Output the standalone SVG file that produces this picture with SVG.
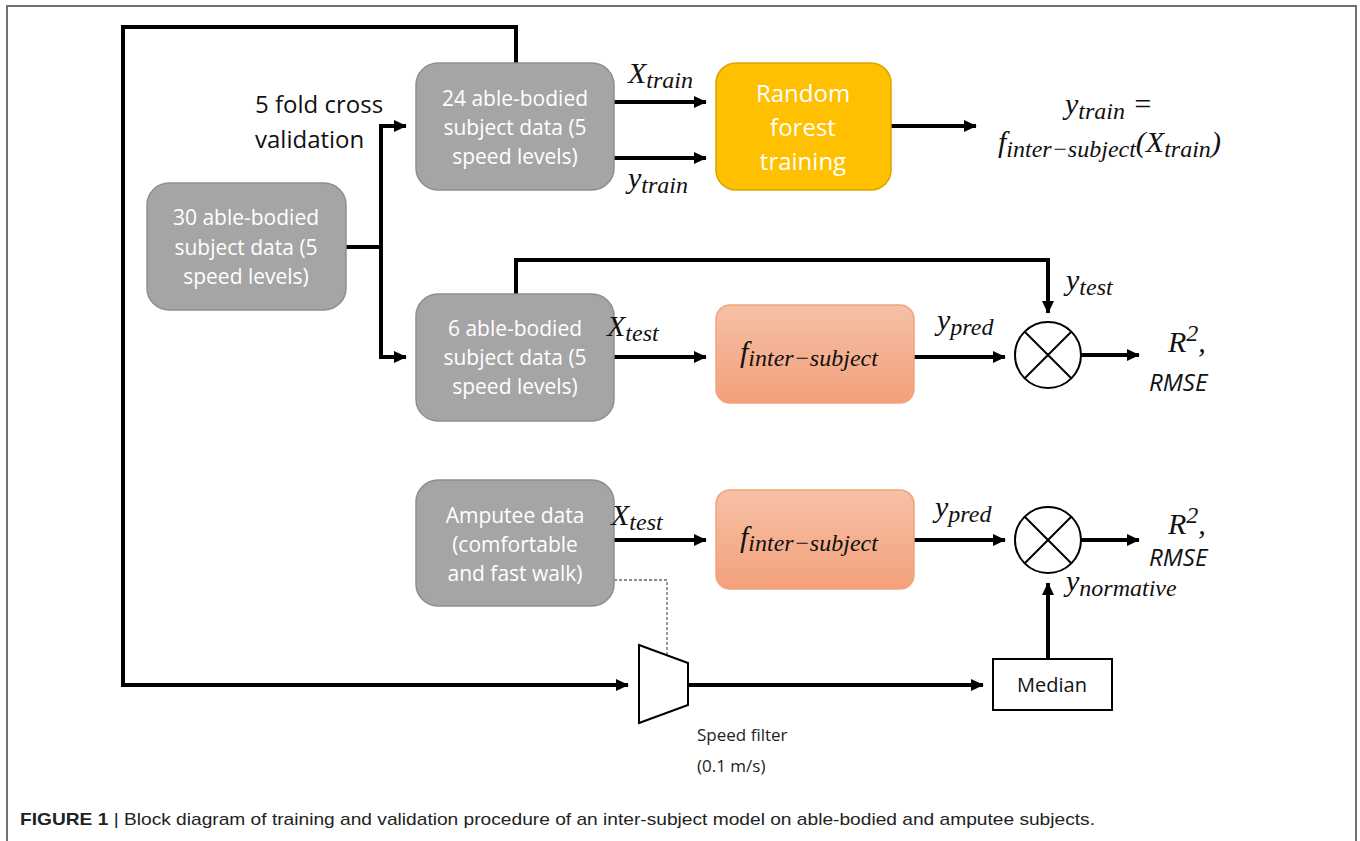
<svg xmlns="http://www.w3.org/2000/svg" width="1360" height="841" viewBox="0 0 1360 841">
<style>
.frame{fill:none;stroke:#707070;stroke-width:2}
.grey{fill:#a5a5a5;stroke:#8e8e8e;stroke-width:1.5}
.gold{fill:#ffc000;stroke:#d9a400;stroke-width:1.5}
.salmon{fill:url(#sal);stroke:#f2a47c;stroke-width:1.5}
.wt{font-family:"Open Sans","Liberation Sans",sans-serif;font-size:21px;fill:#ffffff;text-anchor:middle}
.bt{font-family:"Open Sans","Liberation Sans",sans-serif;font-size:24px;fill:#111111}
.m{font-family:"Liberation Serif",serif;font-style:italic;font-size:30px;fill:#111111}
.s{font-size:24px}
.ln{fill:none;stroke:#000;stroke-width:4}
.arr{fill:none;stroke:#000;stroke-width:4;marker-end:url(#ah)}
.thin{fill:#fff;stroke:#000;stroke-width:2}
.cap{font-family:"Liberation Sans",Arial,sans-serif;font-size:17px;fill:#222}
.sf{font-family:"Open Sans","Liberation Sans",sans-serif;font-size:17px;fill:#222}
</style>
<defs>
<marker id="ah" markerWidth="4" markerHeight="4" refX="3" refY="2" orient="auto" markerUnits="strokeWidth"><path d="M0,0.5 L3.2,2 L0,3.5 Z" fill="#000"/></marker>
<linearGradient id="sal" x1="0" y1="0" x2="0" y2="1"><stop offset="0" stop-color="#f6c1a6"/><stop offset="1" stop-color="#f3a07b"/></linearGradient>
</defs>
<rect x="0" y="0" width="1360" height="841" fill="#fff"/>
<path class="frame" d="M7,860 V6 H1356 V860"/>

<g id="connectors">
<path class="ln" d="M516,63 V27 H123 V685 H626"/>
<path class="arr" d="M123,685 H628"/>
<path class="ln" d="M346,247 H381"/>
<path class="arr" d="M381,247 V126 H406"/>
<path class="arr" d="M381,247 V357 H406"/>
<path class="arr" d="M614,102 H706"/>
<path class="arr" d="M614,158 H706"/>
<path class="arr" d="M891,126 H976"/>
<path class="arr" d="M516,294 V260 H1048 V313"/>
<path class="arr" d="M614,357 H706"/>
<path class="arr" d="M914,357 H1005"/>
<path class="arr" d="M1081,355 H1139"/>
<path class="arr" d="M614,540 H706"/>
<path class="arr" d="M914,540 H1005"/>
<path class="arr" d="M1081,540 H1139"/>
<path class="arr" d="M688,685 H983"/>
<path class="arr" d="M1048,659 V583"/>
<path d="M614,580 H667 V657" fill="none" stroke="#666" stroke-width="1.3" stroke-dasharray="3,2"/>
</g>

<g id="n30">
<rect class="grey" x="147" y="183" width="199" height="127" rx="22"/>
<text class="wt" x="246" y="225">30 able-bodied</text>
<text class="wt" x="246" y="255">subject data (5</text>
<text class="wt" x="246" y="284">speed levels)</text>
</g>
<g id="label-cv">
<text class="bt" x="255" y="113">5 fold cross</text>
<text class="bt" x="255" y="148">validation</text>
</g>
<g id="n24">
<rect class="grey" x="416" y="63" width="198" height="127" rx="22"/>
<text class="wt" x="515" y="106">24 able-bodied</text>
<text class="wt" x="515" y="135">subject data (5</text>
<text class="wt" x="515" y="164">speed levels)</text>
</g>
<g id="n6">
<rect class="grey" x="416" y="294" width="198" height="127" rx="22"/>
<text class="wt" x="515" y="336">6 able-bodied</text>
<text class="wt" x="515" y="365">subject data (5</text>
<text class="wt" x="515" y="394">speed levels)</text>
</g>
<g id="namp">
<rect class="grey" x="416" y="480" width="198" height="126" rx="22"/>
<text class="wt" x="515" y="523">Amputee data</text>
<text class="wt" x="515" y="552">(comfortable</text>
<text class="wt" x="515" y="581">and fast walk)</text>
</g>
<g id="nrf">
<rect class="gold" x="716" y="63" width="175" height="127" rx="20"/>
<text class="wt" x="803" y="102" style="font-size:24px">Random</text>
<text class="wt" x="803" y="136" style="font-size:24px">forest</text>
<text class="wt" x="803" y="170" style="font-size:24px">training</text>
</g>
<g id="nf1">
<rect class="salmon" x="716" y="305" width="198" height="98" rx="14"/>
<text class="m" x="740" y="362">f<tspan class="s" dy="4">inter−subject</tspan></text>
</g>
<g id="nf2">
<rect class="salmon" x="716" y="490" width="198" height="99" rx="14"/>
<text class="m" x="740" y="547">f<tspan class="s" dy="4">inter−subject</tspan></text>
</g>
<g id="nc1">
<circle class="thin" cx="1048" cy="355" r="33"/>
<path d="M1025,332 L1071,378 M1071,332 L1025,378" stroke="#000" stroke-width="2"/>
</g>
<g id="nc2">
<circle class="thin" cx="1048" cy="540" r="33"/>
<path d="M1025,517 L1071,563 M1071,517 L1025,563" stroke="#000" stroke-width="2"/>
</g>
<g id="nfilter">
<path class="thin" d="M639,645 L688,663 L688,705 L639,723 Z" fill="none"/>
<text class="sf" x="697" y="741">Speed filter</text>
<text class="sf" x="697" y="772">(0.1 m/s)</text>
</g>
<g id="nmedian">
<rect x="993" y="659" width="119" height="51" fill="#fff" stroke="#000" stroke-width="2"/>
<text x="1052" y="692" text-anchor="middle" style="font-family:'Open Sans','Liberation Sans',sans-serif;font-size:20px;fill:#111">Median</text>
</g>

<g id="labels">
<text class="m" x="628" y="83">X<tspan class="s" dy="5">train</tspan></text>
<text class="m" x="628" y="188">y<tspan class="s" dy="5">train</tspan></text>
<text class="m" x="1065" y="114">y<tspan class="s" dy="5">train</tspan><tspan dy="-5"> =</tspan></text>
<text class="m" x="998" y="152">f<tspan class="s" dy="5">inter−subject</tspan><tspan dy="-5">(X</tspan><tspan class="s" dy="5">train</tspan><tspan dy="-5">)</tspan></text>
<text class="m" x="607" y="336">X<tspan class="s" dy="5">test</tspan></text>
<text class="m" x="937" y="330">y<tspan class="s" dy="5">pred</tspan></text>
<text class="m" x="1066" y="290">y<tspan class="s" dy="5">test</tspan></text>
<text class="m" x="1168" y="352">R<tspan class="s" dy="-11">2</tspan><tspan dy="11">,</tspan></text>
<text class="m" x="1149" y="391" style="font-family:'Open Sans','Liberation Sans',sans-serif;font-size:24px">RMSE</text>
<text class="m" x="611" y="525">X<tspan class="s" dy="5">test</tspan></text>
<text class="m" x="935" y="517">y<tspan class="s" dy="5">pred</tspan></text>
<text class="m" x="1168" y="534">R<tspan class="s" dy="-11">2</tspan><tspan dy="11">,</tspan></text>
<text class="m" x="1149" y="566" style="font-family:'Open Sans','Liberation Sans',sans-serif;font-size:24px">RMSE</text>
<text class="m" x="1066" y="591">y<tspan class="s" dy="5">normative</tspan></text>
</g>

<g id="caption">
<text class="cap" x="20" y="825" textLength="1075" lengthAdjust="spacingAndGlyphs"><tspan font-weight="bold">FIGURE 1</tspan> | Block diagram of training and validation procedure of an inter-subject model on able-bodied and amputee subjects.</text>
</g>
</svg>
